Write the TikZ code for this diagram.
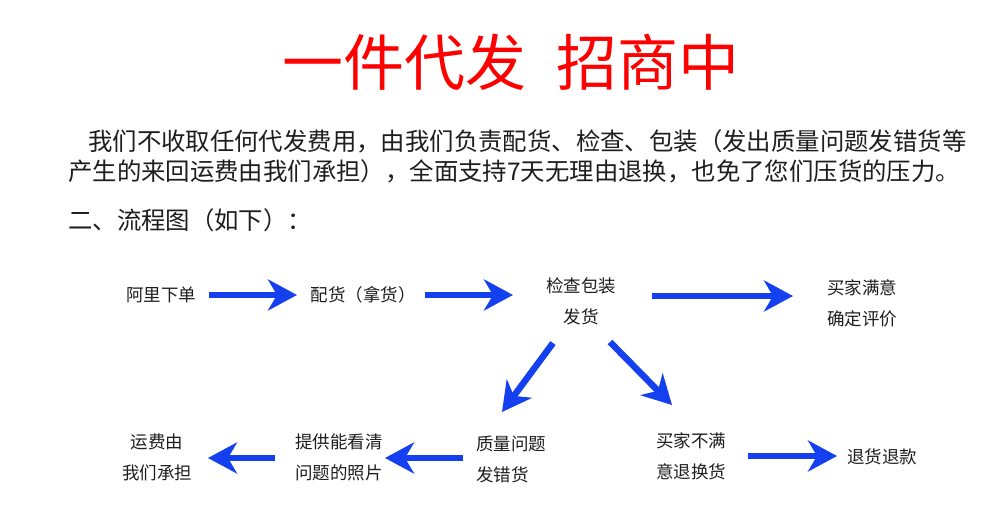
\documentclass[tikz,border=0pt]{standalone}
\usepackage{fontspec}
\setmainfont{Noto Sans CJK SC}
\usetikzlibrary{arrows.meta}
\definecolor{flowblue}{RGB}{20,64,240}
\definecolor{ink}{HTML}{1E1E1E}
\definecolor{titlered}{RGB}{255,0,0}
\begin{document}
\begin{tikzpicture}[x=1pt,y=-1pt,
  txt/.style={font=\fontsize{17.5}{31}\selectfont, text=ink, inner sep=0pt, align=center},
  para/.style={font=\fontsize{24.4}{30}\selectfont, text=ink, inner sep=0pt, anchor=west},
  flow/.style={draw=flowblue, line width=6.5pt, -{Stealth[length=29pt,width=31pt,inset=9pt]}}]
\useasboundingbox[fill=white] (0,0) rectangle (997,515);
% title
\node[font=\fontsize{61}{61}\selectfont, text=titlered, inner sep=0pt] (title) at (511,62) {一件代发\hspace{30pt}招商中};
% paragraph
\node[para] (p1) at (88,141) {我们不收取任何代发费用，由我们负责配货、检查、包装（发出质量问题发错货等};
\node[para] (p2) at (68,171) {产生的来回运费由我们承担），全面支持7天无理由退换，也免了您们压货的压力。};
\node[para] (p3) at (68,220) {二、流程图（如下）：};
% flow nodes
\node[txt] (order) at (161,295) {阿里下单};
\node[txt] (pick) at (363,295) {配货（拿货）};
\node[txt] (check) at (581,301) {检查包装\\发货};
\node[txt] (happy) at (862,303) {买家满意\\确定评价};
\node[txt] (fee) at (157,457) {运费由\\我们承担};
\node[txt] (photo) at (339,457) {提供能看清\\问题的照片};
\node[txt, align=left] (quality) at (511,459) {质量问题\\发错货};
\node[txt] (unhappy) at (691,456) {买家不满\\意退换货};
\node[txt] (refund) at (882,457) {退货退款};
% arrows
\draw[flow] ([shift={(48,0)}]order.center) -- ([shift={(-66,0)}]pick.center);
\draw[flow] ([shift={(62,0)}]pick.center) -- ([shift={(-68,-6)}]check.center);
\draw[flow] ([shift={(71,-5)}]check.center) -- ([shift={(-69,-7)}]happy.center);
\draw[flow] ([shift={(-28,42)}]check.center) -- ([shift={(-9,-47)}]quality.center);
\draw[flow] ([shift={(29,41)}]check.center) -- ([shift={(-19,-51)}]unhappy.center);
\draw[flow] ([shift={(-48,-1)}]quality.center) -- ([shift={(46,1)}]photo.center);
\draw[flow] ([shift={(-64,1)}]photo.center) -- ([shift={(51,1)}]fee.center);
\draw[flow] ([shift={(57,0)}]unhappy.center) -- ([shift={(-45,-1)}]refund.center);
\end{tikzpicture}
\end{document}
